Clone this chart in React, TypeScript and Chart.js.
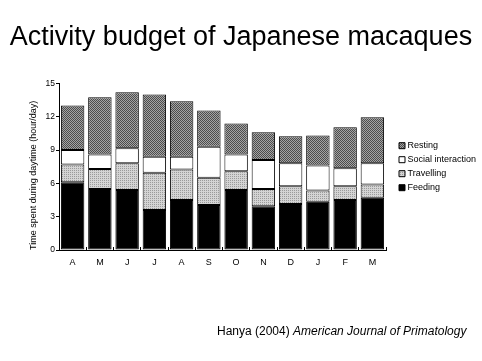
import React, { useEffect, useRef } from 'react';
import { Chart, registerables } from 'chart.js';

Chart.register(...registerables);

const TITLE = 'Activity budget of Japanese macaques';
const Y_TITLE = 'Time spent during daytime (hour/day)';
const FOOTER_AUTHOR = 'Hanya (2004) ';
const FOOTER_JOURNAL = 'American Journal of Primatology';

const months = ['A', 'M', 'J', 'J', 'A', 'S', 'O', 'N', 'D', 'J', 'F', 'M'];
const feeding = [6.1, 5.5, 5.4, 3.6, 4.5, 4.05, 5.4, 3.95, 4.15, 4.35, 4.5, 4.7];
const travelling = [1.6, 1.8, 2.4, 3.35, 2.75, 2.45, 1.7, 1.55, 1.6, 1.0, 1.25, 1.2];
const social = [1.3, 1.3, 1.35, 1.45, 1.15, 2.8, 1.5, 2.6, 2.05, 2.25, 1.6, 1.9];
const resting = [4.0, 5.15, 5.05, 5.6, 5.0, 3.25, 2.8, 2.5, 2.45, 2.7, 3.7, 4.15];
const seriesNames = ['Feeding', 'Travelling', 'Social interaction', 'Resting'];

const FONT = '"Liberation Sans", Arial, Helvetica, sans-serif';

function makePattern(cells: string[][]): CanvasPattern | string {
  const c = document.createElement('canvas');
  c.width = cells[0].length;
  c.height = cells.length;
  const ctx = c.getContext('2d');
  if (!ctx) return '#888';
  cells.forEach((row, y) =>
    row.forEach((col, x) => {
      ctx.fillStyle = col;
      ctx.fillRect(x, y, 1, 1);
    })
  );
  const p = ctx.createPattern(c, 'repeat');
  return p || '#888';
}

const footerPlugin = {
  id: 'footerText',
  afterDraw(chart: any) {
    const ctx = chart.ctx as CanvasRenderingContext2D;
    ctx.save();
    ctx.fillStyle = '#000';
    ctx.textBaseline = 'alphabetic';
    ctx.textAlign = 'left';
    ctx.font = `12px ${FONT}`;
    let x = 217;
    const y = 335;
    ctx.fillText(FOOTER_AUTHOR, x, y);
    x += ctx.measureText(FOOTER_AUTHOR).width;
    ctx.font = `italic 12px ${FONT}`;
    ctx.fillText(FOOTER_JOURNAL, x, y);
    ctx.restore();
  },
};

export default function App() {
  const ref = useRef<HTMLCanvasElement>(null);

  useEffect(() => {
    if (!ref.current) return;
    Chart.defaults.font.family = FONT;
    Chart.defaults.color = '#000';

    const restPattern = makePattern([
      ['#4c4c4c', '#a4a4a4'],
      ['#a4a4a4', '#4c4c4c'],
    ]);
    const travelPattern = makePattern([
      ['#9a9a9a', '#d4d4d4'],
      ['#d4d4d4', '#d4d4d4'],
    ]);

    const common = {
      borderColor: '#000',
      borderWidth: 1,
      borderSkipped: false as const,
      barPercentage: 0.86,
      categoryPercentage: 1,
    };

    const chart = new Chart(ref.current, {
      type: 'bar',
      data: {
        labels: months,
        datasets: [
          { label: seriesNames[0], data: feeding, backgroundColor: '#000', ...common },
          { label: seriesNames[1], data: travelling, backgroundColor: travelPattern as any, ...common },
          { label: seriesNames[2], data: social, backgroundColor: '#fff', ...common },
          { label: seriesNames[3], data: resting, backgroundColor: restPattern as any, ...common },
        ],
      },
      plugins: [footerPlugin],
      options: {
        animation: false,
        responsive: false,
        devicePixelRatio: 1,
        layout: { padding: { left: 0, right: 0, top: 0, bottom: 81 } },
        plugins: {
          title: {
            display: true,
            text: TITLE,
            color: '#000',
            font: { size: 27, weight: 'normal' },
            padding: { top: 21, bottom: 30 },
          },
          legend: {
            position: 'right',
            fullSize: false,
            reverse: true,
            maxWidth: 86,
            labels: {
              usePointStyle: true,
              pointStyle: 'rect',
              boxWidth: 2,
              boxHeight: 6,
              padding: 5,
              color: '#000',
              font: { size: 9 },
            },
          } as any,
          tooltip: { enabled: false },
        },
        scales: {
          x: {
            stacked: true,
            grid: {
              offset: true,
              drawOnChartArea: false,
              drawTicks: true,
              tickLength: -3,
              color: '#000',
            },
            border: { color: '#000', width: 1 },
            ticks: { color: '#000', font: { size: 9 }, padding: 10 },
            afterFit: (s: any) => {
              s.height = 30;
            },
          },
          y: {
            stacked: true,
            min: 0,
            max: 15,
            ticks: { stepSize: 3, color: '#000', font: { size: 8.5 }, padding: 1 },
            grid: { drawOnChartArea: false, tickLength: 3, color: '#000' },
            border: { color: '#000', width: 1 },
            title: {
              display: true,
              text: Y_TITLE,
              color: '#000',
              align: 'start',
              font: { size: 9 },
              padding: { top: 28.5, bottom: 0 },
            },
            afterFit: (s: any) => {
              s.width = 59;
            },
          },
          y2: {
            type: 'linear',
            position: 'right',
            display: true,
            grid: { display: false },
            border: { display: false },
            ticks: { display: false },
            afterFit: (s: any) => {
              s.width = 10;
            },
          },
        },
      },
    });
    return () => chart.destroy();
  }, []);

  return (
    <div style={{ position: 'absolute', left: 0, top: 0, width: 482, height: 361, background: '#fff' }}>
      <canvas ref={ref} width={482} height={361} style={{ display: 'block' }} />
    </div>
  );
}
